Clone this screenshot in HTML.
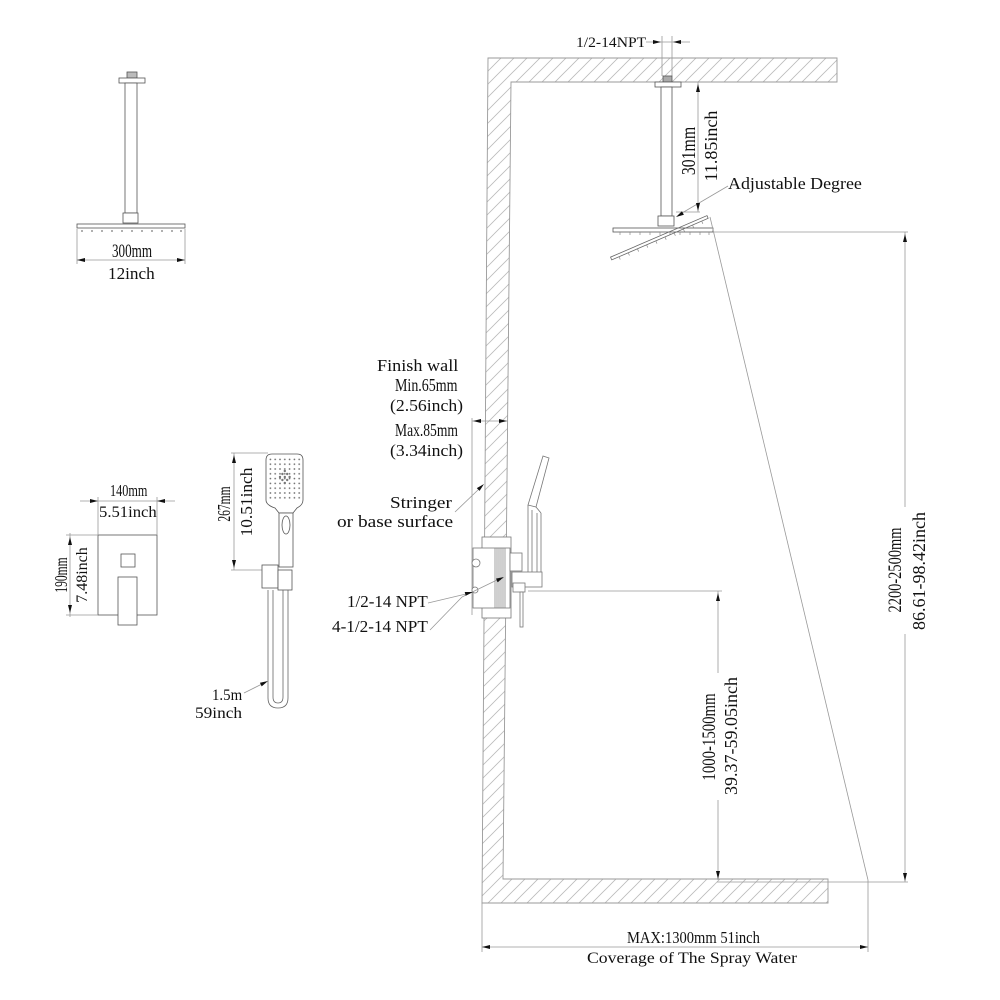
<!DOCTYPE html>
<html><head><meta charset="utf-8"><style>
html,body{margin:0;padding:0;background:#fff;}
svg{display:block;}
text{font-family:"Liberation Serif","Noto Serif CJK SC",serif;fill:#111;}
</style></head><body>
<svg width="1000" height="1000" viewBox="0 0 1000 1000" xmlns="http://www.w3.org/2000/svg">
<defs>
<pattern id="h" patternUnits="userSpaceOnUse" width="13" height="13">
<path d="M0,13 L13,0 M-3,3 L3,-3 M10,16 L16,10" stroke="#bbb" stroke-width="0.8"/>
</pattern>
<pattern id="d" patternUnits="userSpaceOnUse" x="268" y="457" width="4.8" height="4.8">
<circle cx="2.4" cy="2.4" r="0.85" fill="#666"/>
</pattern>
</defs>
<rect width="1000" height="1000" fill="#fff"/>

<!-- WALL -->
<polygon points="488,58 837,58 837,82 511,82 503,879 828,879 828,903 482,903" fill="url(#h)" stroke="#999" stroke-width="0.9"/>

<!-- ===== TOP LEFT SHOWER ===== -->
<g stroke="#555" stroke-width="0.8" fill="#fff">
<rect x="127" y="72" width="10" height="6" fill="#bbb"/>
<rect x="119" y="78" width="26" height="5"/>
<rect x="125" y="83" width="12" height="130"/>
<rect x="123" y="213" width="15" height="10"/>
<rect x="77" y="224" width="108" height="4"/>
</g>
<g fill="#777">
<circle cx="82" cy="231" r="0.9"/><circle cx="92" cy="231" r="0.9"/><circle cx="102" cy="231" r="0.9"/><circle cx="112" cy="231" r="0.9"/><circle cx="122" cy="231" r="0.9"/><circle cx="132" cy="231" r="0.9"/><circle cx="142" cy="231" r="0.9"/><circle cx="152" cy="231" r="0.9"/><circle cx="162" cy="231" r="0.9"/><circle cx="172" cy="231" r="0.9"/><circle cx="181" cy="231" r="0.9"/>
</g>
<g stroke="#999" stroke-width="0.8">
<line x1="77" y1="229" x2="77" y2="264"/>
<line x1="185" y1="229" x2="185" y2="264"/>
<line x1="77" y1="260" x2="185" y2="260"/>
</g>
<polygon points="77,260 85,258 85,262" fill="#111"/>
<polygon points="185,260 177,258 177,262" fill="#111"/>
<text transform="translate(112,257) scale(0.69,1)" font-size="19">300mm</text>
<text transform="translate(108,279) scale(1.01,1)" font-size="17">12inch</text>

<!-- ===== LEFT VALVE PLATE ===== -->
<g stroke="#555" stroke-width="0.8" fill="#fff">
<rect x="98" y="535" width="59" height="80"/>
<rect x="121" y="554" width="14" height="13"/>
<rect x="118" y="577" width="19" height="48"/>
</g>
<g stroke="#999" stroke-width="0.8">
<line x1="98" y1="497" x2="98" y2="535"/>
<line x1="157" y1="497" x2="157" y2="535"/>
<line x1="80" y1="501" x2="175" y2="501"/>
<line x1="70" y1="533" x2="70" y2="617"/>
<line x1="66" y1="535" x2="98" y2="535"/>
<line x1="66" y1="615" x2="98" y2="615"/>
</g>
<polygon points="98,501 90,499 90,503" fill="#111"/>
<polygon points="157,501 165,499 165,503" fill="#111"/>
<polygon points="70,537 68,545 72,545" fill="#111"/>
<polygon points="70,613 68,605 72,605" fill="#111"/>
<text transform="translate(110,496) scale(0.72,1)" font-size="17">140mm</text>
<text transform="translate(99,517) scale(1.04,1)" font-size="16">5.51inch</text>
<text transform="translate(67,575) rotate(-90) scale(0.64,1)" text-anchor="middle" font-size="18">190mm</text>
<text transform="translate(87,575) rotate(-90)" text-anchor="middle" font-size="16">7.48inch</text>

<!-- ===== HAND SHOWER ===== -->
<g stroke="#999" stroke-width="0.8">
<line x1="234" y1="453" x2="234" y2="570"/>
<line x1="231" y1="453" x2="268" y2="453"/>
<line x1="231" y1="570" x2="262" y2="570"/>
</g>
<polygon points="234,455 232,463 236,463" fill="#111"/>
<polygon points="234,568 232,560 236,560" fill="#111"/>
<text transform="translate(230,504) rotate(-90) scale(0.64,1)" text-anchor="middle" font-size="18">267mm</text>
<text transform="translate(252,502) rotate(-90) scale(1.02,1)" text-anchor="middle" font-size="17">10.51inch</text>
<g stroke="#555" stroke-width="0.8" fill="#fff">
<path d="M266,460 Q266,454 272,454 L297,454 Q303,454 303,460 L303,500 Q303,505 297,508 L293,513 L279,513 L275,508 Q266,505 266,500 Z"/>
<rect x="279" y="513" width="14" height="54"/>
<ellipse cx="286" cy="525" rx="4" ry="9"/>
<rect x="262" y="565" width="16" height="23"/>
<rect x="278" y="570" width="14" height="20"/>
</g>
<rect x="268" y="457" width="34" height="43" fill="url(#d)"/>
<g fill="#777">
<circle cx="284.8" cy="471" r="1.2"/><circle cx="282.4" cy="474" r="1.2"/><circle cx="287.2" cy="474" r="1.2"/><circle cx="280" cy="477" r="1.2"/><circle cx="284.8" cy="477" r="1.2"/><circle cx="289.6" cy="477" r="1.2"/><circle cx="282.4" cy="480" r="1.2"/><circle cx="287.2" cy="480" r="1.2"/><circle cx="284.8" cy="483" r="1.2"/>
</g>
<g stroke="#666" stroke-width="0.8" fill="none">
<path d="M268,590 L268,698 Q268,708 278,708 Q288,708 288,698 L288,590"/>
<path d="M273,590 L273,697 Q273,703 278,703 Q283,703 283,697 L283,590"/>
</g>
<line x1="244" y1="693" x2="262" y2="684" stroke="#999" stroke-width="0.8"/>
<polygon points="268,681 261.7,686.4 259.9,682.8" fill="#111"/>
<text transform="translate(212,700) scale(0.93,1)" font-size="16">1.5m</text>
<text transform="translate(195,718) scale(1.08,1)" font-size="16">59inch</text>

<!-- ===== TOP RIGHT SHOWER ===== -->
<g stroke="#999" stroke-width="0.8">
<line x1="646" y1="42" x2="690" y2="42"/>
<line x1="662" y1="36" x2="662" y2="76"/>
<line x1="672" y1="36" x2="672" y2="76"/>
</g>
<polygon points="661,42 653,40 653,44" fill="#111"/>
<polygon points="673,42 681,40 681,44" fill="#111"/>
<text transform="translate(576,47) scale(1.04,1)" font-size="15">1/2-14NPT</text>
<g stroke="#555" stroke-width="0.8" fill="#fff">
<rect x="663" y="76" width="9" height="6" fill="#aaa"/>
<rect x="655" y="82" width="26" height="5"/>
<rect x="661" y="87" width="11" height="129"/>
<rect x="658" y="216" width="16" height="10"/>
<rect x="613" y="228" width="100" height="4"/>
</g>
<g stroke="#888" stroke-width="0.7">
<line x1="620" y1="232" x2="620" y2="235"/><line x1="630" y1="232" x2="630" y2="235"/><line x1="640" y1="232" x2="640" y2="235"/><line x1="650" y1="232" x2="650" y2="235"/><line x1="660" y1="232" x2="660" y2="235"/><line x1="670" y1="232" x2="670" y2="235"/><line x1="680" y1="232" x2="680" y2="235"/><line x1="690" y1="232" x2="690" y2="235"/><line x1="700" y1="232" x2="700" y2="235"/><line x1="709" y1="232" x2="709" y2="235"/>
</g>
<g transform="rotate(-23.3 660 238)">
<rect x="607" y="236" width="105" height="3" fill="none" stroke="#666" stroke-width="0.8"/>
<g stroke="#888" stroke-width="0.7">
<line x1="615" y1="239" x2="615" y2="242"/><line x1="625" y1="239" x2="625" y2="242"/><line x1="635" y1="239" x2="635" y2="242"/><line x1="645" y1="239" x2="645" y2="242"/><line x1="655" y1="239" x2="655" y2="242"/><line x1="665" y1="239" x2="665" y2="242"/><line x1="675" y1="239" x2="675" y2="242"/><line x1="685" y1="239" x2="685" y2="242"/><line x1="695" y1="239" x2="695" y2="242"/><line x1="705" y1="239" x2="705" y2="242"/>
</g>
</g>
<!-- 301 dim -->
<g stroke="#999" stroke-width="0.8">
<line x1="698" y1="82" x2="698" y2="212"/>
<line x1="676" y1="212" x2="700" y2="212"/>
<line x1="728" y1="186" x2="682" y2="213"/>
</g>
<polygon points="698,84 696,92 700,92" fill="#111"/>
<polygon points="698,211 696,203 700,203" fill="#111"/>
<polygon points="676,217 683.9,214.7 681.9,211.3" fill="#111"/>
<text transform="translate(695,151) rotate(-90) scale(0.79,1)" text-anchor="middle" font-size="20">301mm</text>
<text transform="translate(717,146) rotate(-90)" text-anchor="middle" font-size="18">11.85inch</text>
<text transform="translate(728,189) scale(1.087,1)" font-size="16.5">Adjustable Degree</text>

<!-- spray + height dims -->
<g stroke="#999" stroke-width="0.8">
<line x1="713" y1="232" x2="908" y2="232"/>
<line x1="710" y1="217" x2="868" y2="880"/>
<line x1="868" y1="880" x2="868" y2="952"/>
<line x1="905" y1="232" x2="905" y2="507"/>
<line x1="905" y1="634" x2="905" y2="882"/>
<line x1="717" y1="882" x2="908" y2="882"/>
<line x1="528" y1="591" x2="722" y2="591"/>
<line x1="718" y1="591" x2="718" y2="673"/>
<line x1="718" y1="800" x2="718" y2="880"/>
<line x1="482" y1="903" x2="482" y2="952"/>
<line x1="482" y1="947" x2="868" y2="947"/>
</g>
<polygon points="905,234 903,242 907,242" fill="#111"/>
<polygon points="905,881 903,873 907,873" fill="#111"/>
<polygon points="718,593 716,601 720,601" fill="#111"/>
<polygon points="718,879 716,871 720,871" fill="#111"/>
<polygon points="482,947 490,945 490,949" fill="#111"/>
<polygon points="868,947 860,945 860,949" fill="#111"/>
<text transform="translate(901,570) rotate(-90) scale(0.76,1)" text-anchor="middle" font-size="19">2200-2500mm</text>
<text transform="translate(925,571) rotate(-90)" text-anchor="middle" font-size="18">86.61-98.42inch</text>
<text transform="translate(715,737) rotate(-90) scale(0.78,1)" text-anchor="middle" font-size="19">1000-1500mm</text>
<text transform="translate(737,736) rotate(-90)" text-anchor="middle" font-size="18">39.37-59.05inch</text>
<text transform="translate(627,943) scale(0.856,1)" font-size="17">MAX:1300mm 51inch</text>
<text transform="translate(587,963) scale(1.105,1)" font-size="16">Coverage of The Spray Water</text>

<!-- ===== MIDDLE: FINISH WALL + VALVE ===== -->
<g stroke="#999" stroke-width="0.8">
<line x1="472" y1="418" x2="472" y2="615"/>
<line x1="472" y1="421" x2="508" y2="421"/>
<line x1="455" y1="512" x2="479" y2="489"/>
</g>
<polygon points="473,421 481,419 481,423" fill="#111"/>
<polygon points="507,421 499,419 499,423" fill="#111"/>
<polygon points="484,484 479.6,490.9 476.8,488.1" fill="#111"/>
<text transform="translate(377,371) scale(1.07,1)" font-size="17">Finish wall</text>
<text transform="translate(395,391) scale(0.80,1)" font-size="17.5">Min.65mm</text>
<text transform="translate(390,411) scale(1.07,1)" font-size="16.5">(2.56inch)</text>
<text transform="translate(395,436) scale(0.776,1)" font-size="17.5">Max.85mm</text>
<text transform="translate(390,456) scale(1.07,1)" font-size="16.5">(3.34inch)</text>
<text transform="translate(390,508) scale(1.13,1)" font-size="17">Stringer</text>
<text transform="translate(337,527) scale(1.14,1)" font-size="17">or base surface</text>
<text transform="translate(347,607)" font-size="17">1/2-14 NPT</text>
<text transform="translate(332,632) scale(1.01,1)" font-size="17">4-1/2-14 NPT</text>

<g stroke="#777" stroke-width="0.8" fill="#fff">
<rect x="482" y="537" width="29" height="81"/>
<rect x="473" y="548" width="37" height="60"/>
<rect x="510" y="553" width="12" height="18"/>
<rect x="512" y="572" width="30" height="15"/>
<rect x="513" y="583" width="12" height="9"/>
<rect x="520" y="592" width="3" height="35"/>
<circle cx="476" cy="563" r="4"/>
<circle cx="475" cy="590" r="3"/>
</g>
<g stroke="#777" stroke-width="0.7">
<line x1="495" y1="548" x2="495" y2="608"/><line x1="497" y1="548" x2="497" y2="608"/><line x1="499" y1="548" x2="499" y2="608"/><line x1="501" y1="548" x2="501" y2="608"/><line x1="503" y1="548" x2="503" y2="608"/><line x1="505" y1="548" x2="505" y2="608"/>
</g>
<g stroke="#777" stroke-width="0.8" fill="none">
<polygon points="528,505 543,456 549,458 536,507" fill="#fff"/>
<path d="M528,505 L528,572 M541,513 L541,572 M532,510 L532,572 M537,513 L537,572 M536,507 L541,513"/>
</g>
<g stroke="#999" stroke-width="0.8">
<line x1="428" y1="603" x2="466" y2="594"/>
<line x1="430" y1="630" x2="462" y2="597"/>
<line x1="462" y1="597" x2="497" y2="580"/>
</g>
<polygon points="473,592 465.7,595.8 464.7,592" fill="#111"/>
<polygon points="504,577 497.7,582.2 495.9,578.6" fill="#111"/>
</svg>
</body></html>
